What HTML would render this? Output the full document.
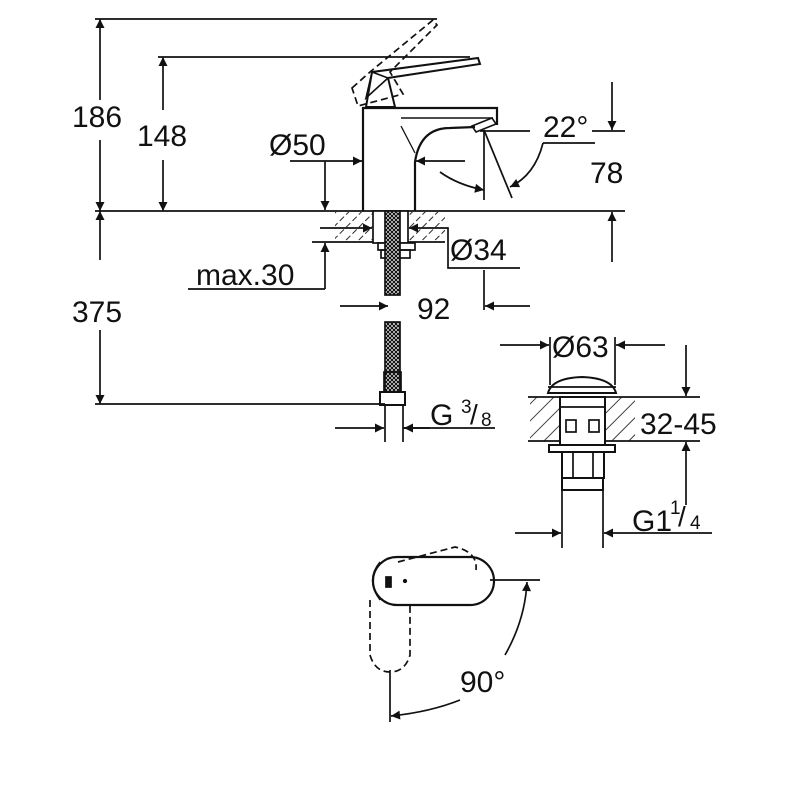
<!DOCTYPE html>
<html><head><style>body{margin:0;background:#fff}svg{display:block}text{font-family:"Liberation Sans",sans-serif;fill:#111}</style></head>
<body>
<svg width="800" height="800" viewBox="0 0 800 800" xmlns="http://www.w3.org/2000/svg">
<defs>
<marker id="a" viewBox="0 0 10 10" refX="10" refY="5" markerWidth="20" markerHeight="9" markerUnits="userSpaceOnUse" orient="auto"><path d="M0,0L10,5L0,10z" fill="#111"/></marker>
<pattern id="h" width="9" height="9" patternUnits="userSpaceOnUse" patternTransform="rotate(45)"><line x1="0" y1="0" x2="0" y2="9" stroke="#111" stroke-width="1.8" stroke-dasharray="6 3"/></pattern>
<pattern id="h2" width="12" height="12" patternUnits="userSpaceOnUse" patternTransform="rotate(45)"><line x1="0" y1="0" x2="0" y2="12" stroke="#111" stroke-width="1.6"/></pattern>
<pattern id="br" width="4" height="4" patternUnits="userSpaceOnUse"><rect width="4" height="4" fill="#fff"/><path d="M0,0L4,4M4,0L0,4" stroke="#111" stroke-width="1.2"/></pattern>
</defs>
<g stroke="#111" stroke-width="1.7" fill="none">
<line x1="95" y1="19" x2="437" y2="19"/>
<line x1="158" y1="57" x2="470" y2="57"/>
<line x1="100" y1="100" x2="100" y2="19" marker-end="url(#a)"/>
<line x1="100" y1="140" x2="100" y2="211" marker-end="url(#a)"/>
<line x1="163" y1="110" x2="163" y2="57" marker-end="url(#a)"/>
<line x1="163" y1="160" x2="163" y2="211" marker-end="url(#a)"/>
<line x1="95" y1="211" x2="625" y2="211"/>
<path d="M372,72 L478,58 L480,64 L388,78 L395,107 L366,107 Z" stroke-width="2"/>
<path d="M372,72 L388,78 L366,98 Z" stroke-width="1.6"/>
<path d="M352,88 L370,72 L433,20 L437,25 L390,72 L403,94 L358,106 Z" stroke-dasharray="7 4"/>
<path d="M363,211 L363,108 L497,108 L497,125" stroke-width="2.2"/>
<line x1="401" y1="118" x2="493" y2="118" stroke-width="1.4"/>
<path d="M415,211 L415,162 Q420,128 450,128 L475,127" stroke-width="2.2"/>
<line x1="401" y1="126" x2="415" y2="153" stroke-width="1.3"/>
<path d="M472,126 L492,118 L496,124 L476,132 Z" stroke-width="1.6"/>
<line x1="290" y1="161" x2="362" y2="161" marker-end="url(#a)"/>
<line x1="465" y1="161" x2="416" y2="161" marker-end="url(#a)"/>
<line x1="325" y1="161" x2="325" y2="210" marker-end="url(#a)"/>
<line x1="484" y1="130" x2="484" y2="200"/>
<line x1="484" y1="130" x2="512" y2="198"/>
<line x1="480" y1="131" x2="530" y2="131"/>
<line x1="592" y1="131" x2="625" y2="131"/>
<path d="M440,172 Q458,185 484,190" marker-end="url(#a)"/>
<path d="M543,143 L595,143"/>
<path d="M543,143 Q535,175 510,187" marker-end="url(#a)"/>
<line x1="612" y1="82" x2="612" y2="130" marker-end="url(#a)"/>
<line x1="612" y1="262" x2="612" y2="212" marker-end="url(#a)"/>
<rect x="335" y="212" width="38" height="30" fill="url(#h)" stroke="none"/>
<rect x="408" y="212" width="37" height="30" fill="url(#h)" stroke="none"/>
<line x1="312" y1="242" x2="445" y2="242"/>
<rect x="373" y="211" width="35" height="32" fill="#fff"/>
<rect x="378" y="243" width="37" height="7" fill="#fff"/>
<rect x="381" y="250" width="29" height="8"/>
<rect x="385" y="211" width="15" height="84" fill="url(#br)"/>
<line x1="320" y1="228" x2="372" y2="228" marker-end="url(#a)"/>
<line x1="445" y1="228" x2="409" y2="228" marker-end="url(#a)"/>
<path d="M445,228 L448,228 L448,268 L520,268"/>
<line x1="325" y1="289" x2="325" y2="243" marker-end="url(#a)"/>
<line x1="188" y1="289" x2="325" y2="289"/>
<line x1="484" y1="270" x2="484" y2="310"/>
<line x1="340" y1="306" x2="388" y2="306" marker-end="url(#a)"/>
<line x1="530" y1="306" x2="485" y2="306" marker-end="url(#a)"/>
<rect x="385" y="322" width="15" height="70" fill="url(#br)"/>
<rect x="384" y="372" width="17" height="20"/>
<rect x="380" y="392" width="25" height="13" stroke-width="2"/>
<line x1="100" y1="260" x2="100" y2="211" marker-end="url(#a)"/>
<line x1="100" y1="330" x2="100" y2="404" marker-end="url(#a)"/>
<line x1="95" y1="404" x2="385" y2="404"/>
<line x1="385" y1="405" x2="385" y2="442"/>
<line x1="403" y1="405" x2="403" y2="442"/>
<line x1="335" y1="428" x2="384" y2="428" marker-end="url(#a)"/>
<line x1="430" y1="428" x2="404" y2="428" marker-end="url(#a)"/>
<line x1="403" y1="428" x2="495" y2="428"/>
<line x1="500" y1="345" x2="549" y2="345" marker-end="url(#a)"/>
<line x1="665" y1="345" x2="616" y2="345" marker-end="url(#a)"/>
<line x1="550" y1="337" x2="550" y2="385"/>
<line x1="615" y1="337" x2="615" y2="385"/>
<rect x="530" y="397" width="32" height="44" fill="url(#h2)" stroke="none"/>
<rect x="603" y="397" width="32" height="44" fill="url(#h2)" stroke="none"/>
<line x1="528" y1="397" x2="700" y2="397"/>
<line x1="528" y1="441" x2="700" y2="441"/>
<path d="M548,393 Q552,378 582,377 Q612,378 616,393 Z" stroke-width="2"/>
<line x1="548" y1="387" x2="616" y2="387"/>
<rect x="560" y="397" width="45" height="48" fill="#fff" stroke-width="2"/>
<line x1="560" y1="407" x2="605" y2="407"/>
<rect x="566" y="420" width="10" height="12"/>
<rect x="589" y="420" width="10" height="12"/>
<rect x="549" y="445" width="66" height="7" stroke-width="2"/>
<rect x="562" y="452" width="42" height="26" stroke-width="2"/>
<line x1="573" y1="452" x2="573" y2="478"/>
<line x1="593" y1="452" x2="593" y2="478"/>
<rect x="562" y="478" width="41" height="12" stroke-width="2"/>
<line x1="562" y1="490" x2="562" y2="548"/>
<line x1="603" y1="490" x2="603" y2="548"/>
<line x1="515" y1="533" x2="561" y2="533" marker-end="url(#a)"/>
<line x1="712" y1="533" x2="604" y2="533" marker-end="url(#a)"/>
<line x1="686" y1="345" x2="686" y2="396" marker-end="url(#a)"/>
<line x1="686" y1="505" x2="686" y2="442" marker-end="url(#a)"/>
<path d="M397,557 L470,557 A24,24 0 0 1 470,605 L397,605 A24,24 0 0 1 397,557 Z" stroke-width="2.2"/>
<path d="M380,562 Q365,580 380,600" stroke-width="1.4"/>
<path d="M398,562 L455,547 Q478,552 476,570" stroke-dasharray="7 4"/>
<path d="M370,600 L370,655 Q375,672 390,672 Q405,672 410,655 L410,605" stroke-dasharray="7 4"/>
<rect x="386" y="577" width="5" height="10" fill="#111"/>
<circle cx="405" cy="581" r="1.3" fill="#111"/>
<line x1="490" y1="580" x2="540" y2="580"/>
<line x1="390" y1="670" x2="390" y2="722"/>
<path d="M505,655 Q525,620 527,582" marker-end="url(#a)"/>
<path d="M460,700 Q430,712 391,716" marker-end="url(#a)"/>
</g>
<g font-size="30">
<text x="72" y="127">186</text>
<text x="137" y="146">148</text>
<text x="269" y="155">Ø50</text>
<text x="543" y="137">22°</text>
<text x="590" y="183">78</text>
<text x="450" y="260">Ø34</text>
<text x="196" y="285">max.30</text>
<text x="72" y="322">375</text>
<text x="417" y="319">92</text>
<text x="430" y="425">G</text>
<text x="552" y="357">Ø63</text>
<text x="640" y="434">32-45</text>
<text x="632" y="531">G1</text>
<text x="460" y="692">90°</text>
</g>
<g font-size="19">
<text x="461" y="413">3</text><text x="470" y="424" font-size="28">/</text><text x="481" y="426">8</text>
<text x="670" y="514">1</text><text x="678" y="526" font-size="28">/</text><text x="690" y="529">4</text>
</g>
</svg>
</body></html>
